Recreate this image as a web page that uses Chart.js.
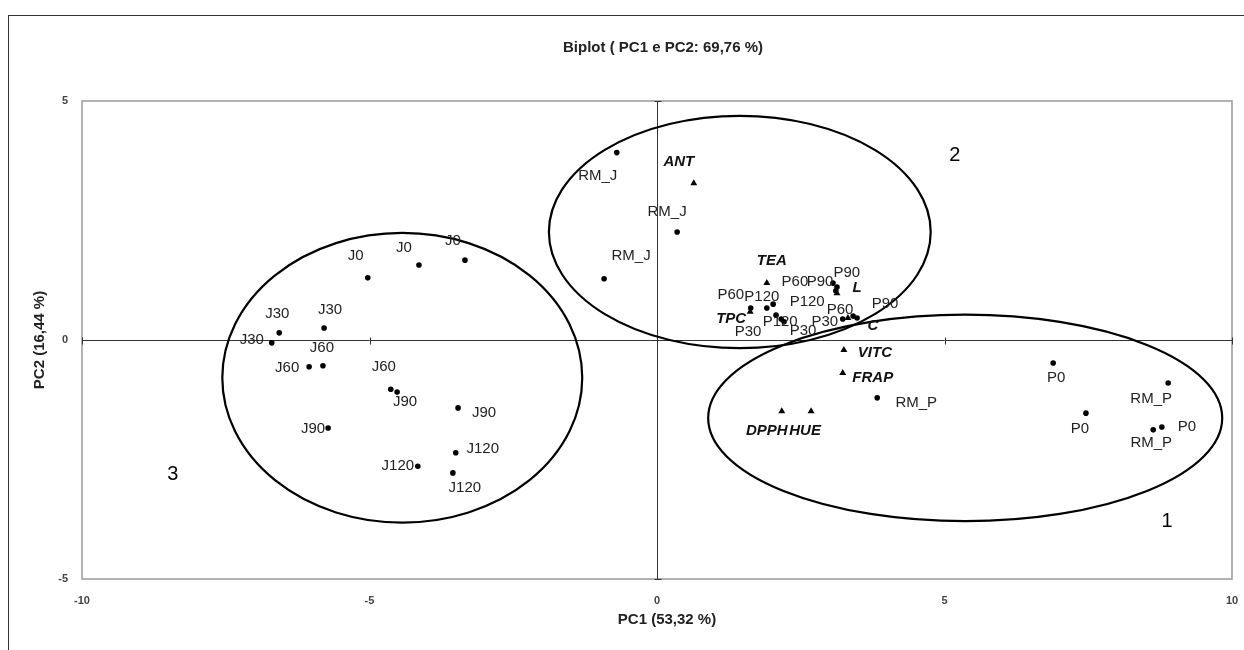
<!DOCTYPE html>
<html>
<head>
<meta charset="utf-8">
<script src="https://cdn.jsdelivr.net/npm/chart.js@4.4.0/dist/chart.umd.min.js"></script>
<style>
  body { margin: 0; background: #fff; }
  #wrap { position: relative; width: 1244px; height: 650px; overflow: hidden; }
  #frame { position: absolute; left: 8px; top: 15px; width: 1400px; height: 800px; border: 1px solid #333; }
  #biplot { position: absolute; left: 0; top: 0; }
</style>
</head>
<body>
<div id="wrap">
  <div id="frame"></div>
  <canvas id="biplot" width="1244" height="650"></canvas>
</div>
<script>
// observations (scores)
const obsLabels = ['RM_J', 'RM_J', 'RM_J', 'J0', 'J0', 'J0', 'J30', 'J30', 'J30', 'J60', 'J60', 'J60',
    'J90', 'J90', 'J90', 'J120', 'J120', 'J120', 'P0', 'P0', 'P0', 'RM_P', 'RM_P', 'RM_P',
    'P30', 'P30', 'P30', 'P60', 'P60', 'P60', 'P90', 'P90', 'P90', 'P120', 'P120', 'P120'];
const obsX = [-0.70, 0.35, -0.92, -5.03, -4.14, -3.34, -6.57, -5.79, -6.70, -6.05, -5.81, -4.63,
    -4.52, -5.72, -3.46, -4.16, -3.50, -3.55, 6.89, 7.46, 8.78, 3.83, 8.89, 8.63,
    2.07, 2.21, 3.23, 1.63, 3.06, 3.41, 3.13, 3.11, 3.48, 1.91, 2.02, 2.16];
const obsY = [3.92, 2.26, 1.28, 1.30, 1.57, 1.67, 0.15, 0.25, -0.06, -0.56, -0.54, -1.03,
    -1.09, -1.84, -1.42, -2.64, -2.36, -2.78, -0.48, -1.53, -1.82, -1.21, -0.90, -1.88,
    0.52, 0.38, 0.44, 0.67, 1.19, 0.50, 1.11, 1.03, 0.46, 0.67, 0.75, 0.44];

// variables (loadings)
const varLabels = ['ANT', 'TEA', 'TPC', 'L', 'C', 'VITC', 'FRAP', 'DPPH', 'HUE'];
const varX = [0.64, 1.91, 1.62, 3.13, 3.32, 3.25, 3.23, 2.17, 2.68];
const varY = [3.28, 1.19, 0.59, 0.98, 0.46, -0.21, -0.69, -1.49, -1.49];

// group ellipses and their numbers
const groupNames = ['1', '2', '3'];
const ellipseCX = [5.36, 1.44, -4.43];
const ellipseCY = [-1.63, 2.26, -0.79];
const ellipseRX = [4.47, 3.32, 3.13];
const ellipseRY = [2.16, 2.43, 3.03];
const groupNameX = [8.87, 5.18, -8.42];
const groupNameY = [-3.79, 3.87, -2.82];

const xTicks = [-10, -5, 0, 5, 10];
const yTicks = [-5, 0, 5];

const chartTitle = 'Biplot ( PC1 e PC2: 69,76 %)';
const xTitle = 'PC1 (53,32 %)';
const yTitle = 'PC2 (16,44 %)';

// label placement, pixels from the marker
const obsLabelOffsets = [[-19, 23], [-10, -20], [27, -23], [-12, -22], [-15, -17], [-12, -19],
    [-2, -19], [6, -18], [-20, -3], [-22, 1], [-1, -18], [-7, -22],
    [8, 10], [-15, 1], [26, 5], [-20, 0], [27, -4], [12, 15],
    [3, 15], [-6, 16], [25, 0], [39, 5], [-17, 16], [-2, 13],
    [-28, 17], [19, 9], [-18, 3], [-20, -13], [-38, -1], [-13, -6],
    [-17, -5], [11, -18], [28, -14], [-5, -11], [34, -2], [-1, 3]];
const varLabelOffsets = [[-15, -21], [5, -22], [-19, 7], [20, -5], [25, 8], [31, 3], [30, 5], [-15, 20], [-6, 20]];

const FONT = "'Liberation Sans', Arial, sans-serif";

const biplotDecor = {
    id: 'biplotDecor',
    beforeDatasetsDraw(chart) {
        const {ctx, chartArea: a, scales: {x, y}} = chart;
        ctx.save();
        // plot frame
        ctx.strokeStyle = '#999';
        ctx.lineWidth = 1.5;
        ctx.strokeRect(a.left, a.top, a.right - a.left, a.bottom - a.top);
        // zero axes with small ticks
        ctx.strokeStyle = '#333';
        ctx.lineWidth = 1;
        const x0 = Math.round(x.getPixelForValue(0)) + 0.5;
        const y0 = Math.round(y.getPixelForValue(0)) + 0.5;
        ctx.beginPath();
        ctx.moveTo(a.left, y0); ctx.lineTo(a.right, y0);
        ctx.moveTo(x0, a.top); ctx.lineTo(x0, a.bottom);
        xTicks.forEach(v => {
            const px = Math.round(x.getPixelForValue(v)) + 0.5;
            ctx.moveTo(px, y0 - 3); ctx.lineTo(px, y0 + 4);
        });
        yTicks.forEach(v => {
            const py = Math.round(y.getPixelForValue(v)) + 0.5;
            ctx.moveTo(x0 - 3, py); ctx.lineTo(x0 + 4, py);
        });
        ctx.stroke();
        // ellipses
        ctx.strokeStyle = '#000';
        ctx.lineWidth = 2.2;
        ellipseCX.forEach((cx, i) => {
            const px = x.getPixelForValue(cx);
            const py = y.getPixelForValue(ellipseCY[i]);
            const rx = Math.abs(x.getPixelForValue(cx + ellipseRX[i]) - px);
            const ry = Math.abs(y.getPixelForValue(ellipseCY[i] + ellipseRY[i]) - py);
            ctx.beginPath();
            ctx.ellipse(px, py, rx, ry, 0, 0, Math.PI * 2);
            ctx.stroke();
        });
        ctx.restore();
    },
    afterDatasetsDraw(chart) {
        const {ctx, chartArea: a, scales: {x, y}} = chart;
        ctx.save();
        ctx.textAlign = 'center';
        ctx.textBaseline = 'middle';
        ctx.fillStyle = '#222';
        ctx.font = '15px ' + FONT;
        obsLabels.forEach((t, i) => {
            ctx.fillText(t, x.getPixelForValue(obsX[i]) + obsLabelOffsets[i][0],
                y.getPixelForValue(obsY[i]) + obsLabelOffsets[i][1]);
        });
        ctx.fillStyle = '#111';
        ctx.font = 'italic bold 15px ' + FONT;
        varLabels.forEach((t, i) => {
            ctx.fillText(t, x.getPixelForValue(varX[i]) + varLabelOffsets[i][0],
                y.getPixelForValue(varY[i]) + varLabelOffsets[i][1]);
        });
        ctx.fillStyle = '#000';
        ctx.font = '20px ' + FONT;
        groupNames.forEach((t, i) => {
            ctx.fillText(t, x.getPixelForValue(groupNameX[i]), y.getPixelForValue(groupNameY[i]));
        });
        // titles
        const mid = (a.left + a.right) / 2;
        ctx.fillStyle = '#222';
        ctx.font = 'bold 15px ' + FONT;
        ctx.fillText(chartTitle, mid + 6, 48);
        ctx.fillText(xTitle, mid + 10, 620);
        ctx.restore();
    }
};

const config = {
    type: 'scatter',
    data: {
        datasets: [{
            label: 'Observations',
            data: obsX.map((v, i) => ({x: v, y: obsY[i]})),
            pointStyle: 'circle',
            pointRadius: 2.8,
            backgroundColor: '#000',
            borderColor: '#000',
            borderWidth: 0
        }, {
            label: 'Variables',
            data: varX.map((v, i) => ({x: v, y: varY[i]})),
            pointStyle: 'triangle',
            pointRadius: 4,
            backgroundColor: '#000',
            borderColor: '#000',
            borderWidth: 0
        }]
    },
    options: {
        responsive: false,
        animation: false,
        layout: { padding: { left: 0, right: 12, top: 101, bottom: 0 } },
        plugins: {
            legend: { display: false },
            tooltip: { enabled: false },
            title: { display: false }
        },
        scales: {
            x: {
                type: 'linear',
                min: -10,
                max: 10,
                afterBuildTicks: s => { s.ticks = xTicks.map(v => ({value: v})); },
                ticks: { padding: 15, color: '#444', font: { family: FONT, size: 11, weight: 'bold' } },
                grid: { display: false, drawTicks: false },
                border: { display: false },
                title: { display: false },
                afterFit: s => { s.height = 71; s.paddingLeft = 0; s.paddingRight = 0; }
            },
            y: {
                type: 'linear',
                min: -5,
                max: 5,
                afterBuildTicks: s => { s.ticks = yTicks.map(v => ({value: v})); },
                ticks: { padding: 14, color: '#444', font: { family: FONT, size: 11, weight: 'bold' } },
                grid: { display: false, drawTicks: false },
                border: { display: false },
                title: {
                    display: true,
                    text: yTitle,
                    color: '#222',
                    font: { family: FONT, size: 15, weight: 'bold', lineHeight: 1.2 },
                    padding: { top: 31, bottom: 0 }
                },
                afterFit: s => { s.width = 82; s.paddingTop = 0; s.paddingBottom = 0; }
            }
        }
    },
    plugins: [biplotDecor]
};

new Chart(document.getElementById('biplot'), config);
</script>
</body>
</html>
